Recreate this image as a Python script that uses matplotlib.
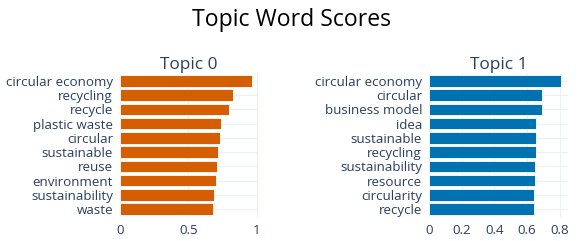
import matplotlib
matplotlib.use("Agg")
import matplotlib.pyplot as plt

# topic 0 words / scores (top to bottom)
topic0_words = ["circular economy", "recycling", "recycle", "plastic waste", "circular",
                "sustainable", "reuse", "environment", "sustainability", "waste"]
topic0_scores = [0.968, 0.83, 0.80, 0.74, 0.733, 0.715, 0.71, 0.705, 0.69, 0.68]

topic1_words = ["circular economy", "circular", "business model", "idea", "sustainable",
                "recycling", "sustainability", "resource", "circularity", "recycle"]
topic1_scores = [0.81, 0.692, 0.69, 0.657, 0.655, 0.653, 0.647, 0.647, 0.645, 0.641]

colors = ["#D55E00", "#0072B2"]
txt = "#2a3f5f"
grid = "#EBF0F8"

plt.rcParams['font.family'] = ['Open Sans', 'DejaVu Sans']

W, H = 582, 241
fig = plt.figure(figsize=(W / 100, H / 100), dpi=100)

def panel(left, right, words, scores, color, title, xlim, ticks, ticklabels):
    ax = fig.add_axes([left / W, 1 - 217 / H, (right - left) / W, (217 - 73) / H])
    y = list(range(len(words)))[::-1]
    ax.barh(y, scores, height=0.8, color=color, edgecolor="white", linewidth=0.6, zorder=2)
    ax.set_yticks(y)
    ax.set_yticklabels(words)
    ax.set_ylim(-0.55, len(words) - 0.45)
    ax.set_xlim(*xlim)
    ax.set_xticks(ticks)
    ax.set_xticklabels(ticklabels)
    ax.grid(axis="both", color=grid, linewidth=0.8, zorder=0)
    for s in ax.spines.values():
        s.set_visible(False)
    ax.tick_params(length=0, labelsize=9.6, colors=txt, pad=5)
    ax.set_title(title, fontsize=12.4, color=txt, pad=3)
    return ax

panel(120, 258, topic0_words, topic0_scores, colors[0], "Topic 0",
      (0, 1.01), [0, 0.5, 1], ["0", "0.5", "1"])
panel(429, 568, topic1_words, topic1_scores, colors[1], "Topic 1",
      (0, 0.851), [0, 0.2, 0.4, 0.6, 0.8], ["0", "0.2", "0.4", "0.6", "0.8"])

fig.text(0.5, 1 - 20 / H, "Topic Word Scores", ha="center", va="center",
         fontsize=16.6, color="black")

fig.savefig("out.png", dpi=100)
